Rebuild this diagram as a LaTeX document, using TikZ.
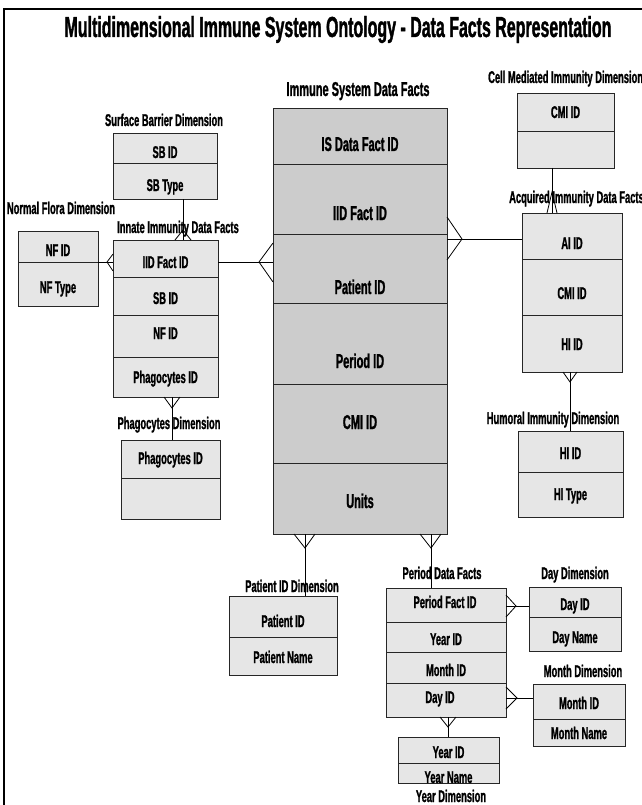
\documentclass[tikz,border=0pt]{standalone}
\usepackage{fontspec}
\setmainfont{Liberation Sans}[FakeStretch=0.55, BoldFeatures={FakeBold=1.2}]
\usetikzlibrary{calc}
\definecolor{maingray}{RGB}{204,204,204}
\definecolor{cellgray}{RGB}{230,230,230}
\newcommand\crowfoot[3]{\draw[conn] (#2) -- (#1) -- (#3);}
\begin{document}
\begin{tikzpicture}[x=1pt,y=-1pt,
  cell/.style={draw=black!85, fill=cellgray, line width=0.9pt, inner sep=0pt, outer sep=0pt},
  keycell/.style={cell, fill=maingray},
  field/.style={font=\bfseries\fontsize{17}{18}\selectfont, inner sep=0pt, text height=12pt, text depth=0pt},
  keyfield/.style={field, font=\bfseries\fontsize{20}{22}\selectfont, text height=14pt},
  tabletitle/.style={field},
  conn/.style={draw=black, line width=0.8pt}]
\useasboundingbox (0,0) rectangle (641,805);

% frame
\draw[line width=2pt] (4,808) -- (4,9) -- (645,9);

% heading
\node[font=\bfseries\fontsize{29}{30}\selectfont, inner sep=0pt, text height=20pt, text depth=0pt] (title) at (338,27)
  {Multidimensional Immune System Ontology - Data Facts Representation};

% ---------- Immune System Data Facts ----------
\node[tabletitle, font=\bfseries\fontsize{20}{22}\selectfont, text height=14pt] (isT) at (358,89) {Immune System Data Facts};
\node[keycell, minimum width=174, minimum height=56] (is1) at (360,136) {};
\node[keycell, minimum width=174, minimum height=70] (is2) at (360,199) {};
\node[keycell, minimum width=174, minimum height=69] (is3) at (360,268.5) {};
\node[keycell, minimum width=174, minimum height=81] (is4) at (360,343.5) {};
\node[keycell, minimum width=174, minimum height=79] (is5) at (360,423.5) {};
\node[keycell, minimum width=174, minimum height=71] (is6) at (360,498.5) {};
\node[keyfield] (isA) at (360,144) {IS Data Fact ID};
\node[keyfield] (isB) at (360,213) {IID Fact ID};
\node[keyfield] (isC) at (360,287) {Patient ID};
\node[keyfield] (isD) at (360,361) {Period ID};
\node[keyfield] (isE) at (360,422) {CMI ID};
\node[keyfield] (isF) at (360,501) {Units};

% ---------- Innate Immunity Data Facts ----------
\node[tabletitle] (inT) at (178,227) {Innate Immunity Data Facts};
\node[cell, minimum width=105, minimum height=37] (in1) at (165.5,258.5) {};
\node[cell, minimum width=105, minimum height=38] (in2) at (165.5,296) {};
\node[cell, minimum width=105, minimum height=42] (in3) at (165.5,336) {};
\node[cell, minimum width=105, minimum height=40] (in4) at (165.5,377) {};
\node[field] (inA) at (165.5,262) {IID Fact ID};
\node[field] (inB) at (165.5,298) {SB ID};
\node[field] (inC) at (165.5,333) {NF ID};
\node[field] (inD) at (165.5,377) {Phagocytes ID};

% ---------- Surface Barrier Dimension ----------
\node[tabletitle] (sbT) at (164,120) {Surface Barrier Dimension};
\node[cell, minimum width=104, minimum height=30] (sb1) at (165,148) {};
\node[cell, minimum width=104, minimum height=36] (sb2) at (165,181) {};
\node[field] (sbA) at (165,152) {SB ID};
\node[field] (sbB) at (165,185) {SB Type};

% ---------- Normal Flora Dimension ----------
\node[tabletitle] (nfT) at (61,208) {Normal Flora Dimension};
\node[cell, minimum width=80, minimum height=31] (nf1) at (58,246.5) {};
\node[cell, minimum width=80, minimum height=44] (nf2) at (58,284) {};
\node[field] (nfA) at (58,250) {NF ID};
\node[field] (nfB) at (58,287) {NF Type};

% ---------- Phagocytes Dimension ----------
\node[tabletitle] (phT) at (169,423) {Phagocytes Dimension};
\node[cell, minimum width=99, minimum height=38] (ph1) at (170.5,459) {};
\node[cell, minimum width=99, minimum height=41] (ph2) at (170.5,498.5) {};
\node[field] (phA) at (170.5,458) {Phagocytes ID};

% ---------- Cell Mediated Immunity Dimension ----------
\node[tabletitle, anchor=west] (cmT) at (488,77) {Cell Mediated Immunity Dimension};
\node[cell, minimum width=97, minimum height=38] (cm1) at (565.5,112) {};
\node[cell, minimum width=97, minimum height=37] (cm2) at (565.5,149.5) {};
\node[field] (cmA) at (565.5,112) {CMI ID};

% ---------- Acquired Immunity Data Facts ----------
\node[tabletitle, anchor=west] (aiT) at (509,197) {Acquired Immunity Data Facts};
\node[cell, minimum width=100, minimum height=46] (ai1) at (572,236) {};
\node[cell, minimum width=100, minimum height=56] (ai2) at (572,287) {};
\node[cell, minimum width=100, minimum height=57] (ai3) at (572,343.5) {};
\node[field] (aiA) at (572,243) {AI ID};
\node[field] (aiB) at (572,293) {CMI ID};
\node[field] (aiC) at (572,344) {HI ID};

% ---------- Humoral Immunity Dimension ----------
\node[tabletitle] (hiT) at (553,418) {Humoral Immunity Dimension};
\node[cell, minimum width=105, minimum height=41] (hi1) at (570.5,451.5) {};
\node[cell, minimum width=105, minimum height=45] (hi2) at (570.5,494.5) {};
\node[field] (hiA) at (570.5,453) {HI ID};
\node[field] (hiB) at (570.5,494) {HI Type};

% ---------- Patient ID Dimension ----------
\node[tabletitle] (pdT) at (292,586) {Patient ID Dimension};
\node[cell, minimum width=108, minimum height=41] (pd1) at (283,616.5) {};
\node[cell, minimum width=108, minimum height=38] (pd2) at (283,656) {};
\node[field] (pdA) at (283,621) {Patient ID};
\node[field] (pdB) at (283,657) {Patient Name};

% ---------- Period Data Facts ----------
\node[tabletitle] (prT) at (442,573) {Period Data Facts};
\node[cell, minimum width=120, minimum height=34] (pr1) at (446,605) {};
\node[cell, minimum width=120, minimum height=30] (pr2) at (446,637) {};
\node[cell, minimum width=120, minimum height=31] (pr3) at (446,667.5) {};
\node[cell, minimum width=120, minimum height=34] (pr4) at (446,700) {};
\node[field] (prA) at (445,602) {Period Fact ID};
\node[field] (prB) at (446,639) {Year ID};
\node[field] (prC) at (446,670) {Month ID};
\node[field] (prD) at (440,697) {Day ID};

% ---------- Day Dimension ----------
\node[tabletitle] (dyT) at (575,573) {Day Dimension};
\node[cell, minimum width=92, minimum height=30] (dy1) at (575,602) {};
\node[cell, minimum width=92, minimum height=34] (dy2) at (575,634) {};
\node[field] (dyA) at (575,604) {Day ID};
\node[field] (dyB) at (575,637) {Day Name};

% ---------- Month Dimension ----------
\node[tabletitle] (moT) at (583,671) {Month Dimension};
\node[cell, minimum width=92, minimum height=35] (mo1) at (579,701.5) {};
\node[cell, minimum width=92, minimum height=27] (mo2) at (579,732.5) {};
\node[field] (moA) at (579,703) {Month ID};
\node[field] (moB) at (579,733) {Month Name};

% ---------- Year Dimension ----------
\node[cell, minimum width=101, minimum height=26] (yr1) at (448.5,750) {};
\node[cell, minimum width=101, minimum height=20] (yr2) at (448.5,773) {};
\node[field] (yrA) at (448.5,752) {Year ID};
\node[field] (yrB) at (448.5,777) {Year Name};
\node[tabletitle] (yrT) at (451,796) {Year Dimension};

% ---------- relationships (crow's foot at the many side) ----------
% Innate -> Immune System
\coordinate (s1) at ($(in1.east)+(0,3.5)$);
\draw[conn] (s1) -- (s1 -| is3.west) coordinate (c1);
\crowfoot{$(c1)+(-14,0)$}{$(c1)+(0,-19)$}{$(c1)+(0,20)$}
% Normal Flora -> Innate
\draw[conn] (nf1.south east) -- (nf1.south east -| in1.west) coordinate (c2);
\crowfoot{$(c2)+(-6,0)$}{$(c2)+(0,-8)$}{$(c2)+(0,9)$}
% Surface Barrier -> Innate
\coordinate (s3) at (183,0);
\draw[conn] (sb2.south -| s3) -- (in1.north -| s3) coordinate (c3);
\crowfoot{$(c3)+(0,-10)$}{$(c3)+(-8,0)$}{$(c3)+(8,0)$}
% Phagocytes -> Innate
\coordinate (s4) at (172,0);
\draw[conn] (ph1.north -| s4) -- (in4.south -| s4) coordinate (c4);
\crowfoot{$(c4)+(0,11)$}{$(c4)+(-8,0)$}{$(c4)+(8,0)$}
% Acquired -> Immune System
\coordinate (s5) at ($(ai1.west)+(0,3)$);
\draw[conn] (s5) -- (s5 -| is2.east) coordinate (c5);
\crowfoot{$(c5)+(15,0)$}{$(c5)+(0,-22)$}{$(c5)+(0,21)$}
% Cell Mediated -> Acquired
\coordinate (s6) at (552,0);
\draw[conn] (cm2.south -| s6) -- (ai1.north -| s6) coordinate (c6);
\crowfoot{$(c6)+(0,-21)$}{$(c6)+(-5,0)$}{$(c6)+(5,0)$}
% Humoral -> Acquired
\coordinate (s7) at (570,0);
\draw[conn] (hi1.north -| s7) -- (ai3.south -| s7) coordinate (c7);
\crowfoot{$(c7)+(0,10)$}{$(c7)+(-7,0)$}{$(c7)+(7,0)$}
% Patient -> Immune System
\coordinate (s8) at (305,0);
\draw[conn] (pd1.north -| s8) -- (is6.south -| s8) coordinate (c8);
\crowfoot{$(c8)+(0,14)$}{$(c8)+(-11,0)$}{$(c8)+(10,0)$}
% Period -> Immune System
\coordinate (s9) at (431,0);
\draw[conn] (pr1.north -| s9) -- (is6.south -| s9) coordinate (c9);
\crowfoot{$(c9)+(0,14)$}{$(c9)+(-11,0)$}{$(c9)+(10,0)$}
% Day -> Period
\coordinate (s10) at ($(dy1.west)+(0,4)$);
\draw[conn] (s10) -- (s10 -| pr1.east) coordinate (c10);
\crowfoot{$(c10)+(10,0)$}{$(c10)+(0,-11)$}{$(c10)+(0,11)$}
% Month -> Period
\coordinate (s11) at ($(mo1.west)+(0,-3.5)$);
\draw[conn] (s11) -- (s11 -| pr4.east) coordinate (c11);
\crowfoot{$(c11)+(11,0)$}{$(c11)+(0,-11)$}{$(c11)+(0,11)$}
% Year -> Period
\coordinate (s12) at (448,0);
\draw[conn] (yr1.north -| s12) -- (pr4.south -| s12) coordinate (c12);
\crowfoot{$(c12)+(0,10)$}{$(c12)+(-8,0)$}{$(c12)+(8,0)$}
\end{tikzpicture}
\end{document}
